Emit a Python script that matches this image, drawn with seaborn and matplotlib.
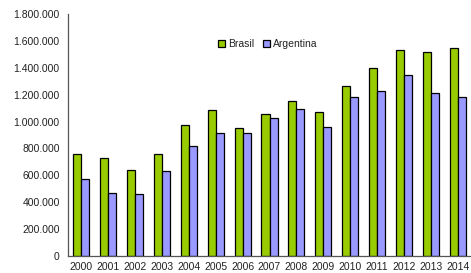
import pandas as pd
import numpy as np
import matplotlib.pyplot as plt
import seaborn as sns
from matplotlib.ticker import FuncFormatter, FixedLocator

years = ['2000', '2001', '2002', '2003', '2004', '2005', '2006', '2007',
         '2008', '2009', '2010', '2011', '2012', '2013', '2014']
brasil = [759000, 731000, 640000, 761000, 977000, 1084000, 950000, 1054000,
          1153000, 1071000, 1267000, 1396000, 1535000, 1515000, 1548000]
argentina = [571000, 466000, 459000, 635000, 816000, 915000, 915000, 1027000,
             1094000, 960000, 1185000, 1228000, 1347000, 1213000, 1185000]

df = pd.DataFrame({
    'Año': years * 2,
    'Valor': brasil + argentina,
    'País': ['Brasil'] * len(years) + ['Argentina'] * len(years),
})

sns.set_theme(style="white")
plt.rcParams['font.family'] = ['Liberation Sans', 'DejaVu Sans']

fig = plt.figure(figsize=(4.71, 2.73), dpi=100)
ax = fig.add_axes([68 / 471, 17 / 273, 403 / 471, 242 / 273])

sns.barplot(data=df, x='Año', y='Valor', hue='País', order=years,
            hue_order=['Brasil', 'Argentina'],
            palette={'Brasil': '#99CC00', 'Argentina': '#9999FF'},
            saturation=1, width=0.6, edgecolor='black', linewidth=0.9, ax=ax)

ax.set_ylim(0, 1800000)
ax.set_xlim(-0.5, len(years) - 0.5)
ax.set_yticks(np.arange(0, 1800001, 200000))
ax.yaxis.set_major_formatter(FuncFormatter(lambda v, p: f"{int(v):,}".replace(',', '.')))
ax.xaxis.set_minor_locator(FixedLocator(np.arange(0.5, len(years) - 0.5, 1)))
ax.tick_params(axis='x', which='major', length=0, labelsize=7.5, pad=4, colors='#222222')
ax.tick_params(axis='x', which='minor', length=3, width=0.8, color='#555555', direction='out')
ax.tick_params(axis='y', length=3, width=0.8, labelsize=7.5, colors='#222222', direction='out', pad=3)
ax.tick_params(axis='y', color='#555555')
ax.set_xlabel('')
ax.set_ylabel('')
sns.despine(ax=ax, top=True, right=True)
for s in ['left', 'bottom']:
    ax.spines[s].set_color('#555555')
    ax.spines[s].set_linewidth(0.9)

ax.legend(loc='center', bbox_to_anchor=(268 / 471, 1 - 44 / 273),
          bbox_transform=fig.transFigure, ncol=2, frameon=False,
          fontsize=7.5, handlelength=0.7, handleheight=0.7,
          handletextpad=0.3, columnspacing=0.8, labelcolor='#222222')

plt.savefig('out.png', dpi=100)
